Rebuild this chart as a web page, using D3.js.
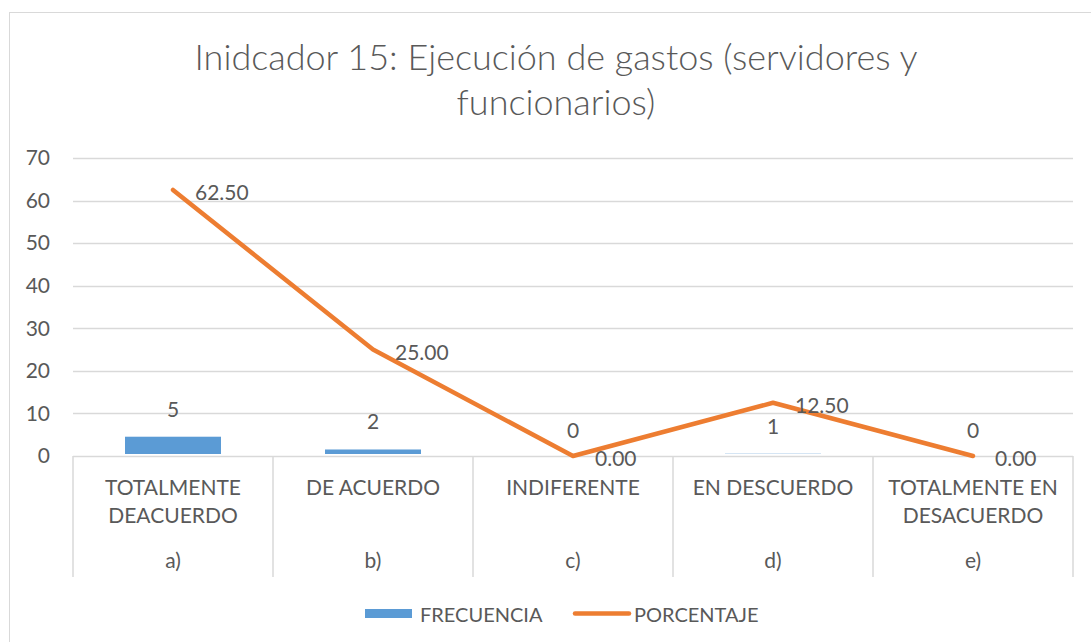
<!DOCTYPE html>
<html>
<head>
<meta charset="utf-8">
<script src="https://cdn.jsdelivr.net/npm/d3@7"></script>
<style>
  body { margin: 0; background: #fff; }
  text { font-family: Lato, "Open Sans", sans-serif; fill: #595959; }
</style>
</head>
<body>
<svg id="chart"></svg>
<script>
// data
var categories = ["TOTALMENTE DEACUERDO", "DE ACUERDO", "INDIFERENTE", "EN DESCUERDO", "TOTALMENTE EN DESACUERDO"];
var catLines = [["TOTALMENTE", "DEACUERDO"], ["DE ACUERDO"], ["INDIFERENTE"], ["EN DESCUERDO"], ["TOTALMENTE EN", "DESACUERDO"]];
var subLabels = ["a)", "b)", "c)", "d)", "e)"];
var frecuencia = [5, 2, 0, 1, 0];
var porcentaje = [62.5, 25, 0, 12.5, 0];
var yTicks = [0, 10, 20, 30, 40, 50, 60, 70];
var titleLines = ["Inidcador 15: Ejecución de gastos (servidores y", "funcionarios)"];

var W = 1091, H = 642;
var margin = {top: 158, right: 18, bottom: 186, left: 73};
var plotW = W - margin.left - margin.right,
    plotH = H - margin.top - margin.bottom;

var svg = d3.select("#chart").attr("width", W).attr("height", H);

// chart border (only top and left show in the picture)
svg.append("rect")
    .attr("x", 9.5).attr("y", 12.5)
    .attr("width", W).attr("height", H)
    .attr("fill", "none")
    .attr("stroke", "#d9d9d9")
    .attr("stroke-width", 1);

// title
svg.append("g").selectAll("text")
    .data(titleLines)
    .enter()
    .append("text")
    .attr("x", 556)
    .attr("y", (d, i) => 70 + i * 45)
    .attr("text-anchor", "middle")
    .attr("font-size", "36px")
    .attr("font-weight", 300)
    .text(d => d);

var g = svg.append("g").attr("transform", `translate(${margin.left}, ${margin.top})`);

var x = d3.scaleBand()
    .domain(categories)
    .range([0, plotW])
    .paddingInner(0.5)
    .paddingOuter(0.25);

var xEdge = d3.scaleLinear()
    .domain([0, categories.length])
    .range([0, plotW]);

var y = d3.scaleLinear()
    .domain([0, 70])
    .range([plotH, 0]);

// gridlines
g.append("g").selectAll("line")
    .data(yTicks.filter(t => t > 0))
    .enter()
    .append("line")
    .attr("x1", 0).attr("x2", plotW)
    .attr("y1", d => Math.round(y(d)) + 0.5)
    .attr("y2", d => Math.round(y(d)) + 0.5)
    .attr("stroke", "#d9d9d9")
    .attr("stroke-width", 1.3);

// y axis labels
var yAxis = d3.axisLeft(y).tickValues(yTicks).tickSize(0).tickPadding(23);
var yAxisGroup = g.append("g").call(yAxis);
yAxisGroup.select(".domain").remove();
yAxisGroup.selectAll("text")
    .attr("font-size", "21px")
    .attr("font-family", "Lato, 'Open Sans', sans-serif")
    .attr("fill", "#595959");

// bars
g.append("g").selectAll("rect")
    .data(frecuencia)
    .enter()
    .append("rect")
    .attr("x", (d, i) => x(categories[i]))
    .attr("y", d => y(d))
    .attr("width", x.bandwidth())
    .attr("height", d => plotH - y(d))
    .attr("fill", "#5b9bd5")
    .attr("stroke", "#fff")
    .attr("stroke-width", 4);

// bar labels
g.append("g").selectAll("text")
    .data(frecuencia)
    .enter()
    .append("text")
    .attr("x", (d, i) => x(categories[i]) + x.bandwidth() / 2)
    .attr("y", d => y(d) - 18)
    .attr("text-anchor", "middle")
    .attr("font-size", "21px")
    .text(d => d);

// category axis: baseline and separators
g.append("line")
    .attr("x1", 0).attr("x2", plotW)
    .attr("y1", plotH + 0.5).attr("y2", plotH + 0.5)
    .attr("stroke", "#d9d9d9")
    .attr("stroke-width", 1.5);

g.append("g").selectAll("line")
    .data(d3.range(categories.length + 1))
    .enter()
    .append("line")
    .attr("x1", d => xEdge(d)).attr("x2", d => xEdge(d))
    .attr("y1", plotH).attr("y2", plotH + 121)
    .attr("stroke", "#d9d9d9")
    .attr("stroke-width", 1.5);

// category labels
var catGroup = g.append("g");
catLines.forEach(function(lines, i){
    var cx = x(categories[i]) + x.bandwidth() / 2;
    lines.forEach(function(line, j){
        catGroup.append("text")
            .attr("x", cx)
            .attr("y", plotH + 39 + j * 28)
            .attr("text-anchor", "middle")
            .attr("font-size", "21px")
            .text(line);
    });
    catGroup.append("text")
        .attr("x", cx)
        .attr("y", plotH + 112)
        .attr("text-anchor", "middle")
        .attr("font-size", "21px")
        .text(subLabels[i]);
});

// percentage line
var line = d3.line()
    .x((d, i) => x(categories[i]) + x.bandwidth() / 2)
    .y(d => y(d));

g.append("path")
    .datum(porcentaje)
    .attr("d", line)
    .attr("fill", "none")
    .attr("stroke", "#ed7d31")
    .attr("stroke-width", 4.5)
    .attr("stroke-linecap", "round")
    .attr("stroke-linejoin", "round");

// line labels
g.append("g").selectAll("text")
    .data(porcentaje)
    .enter()
    .append("text")
    .attr("x", (d, i) => x(categories[i]) + x.bandwidth() / 2 + 22)
    .attr("y", d => y(d) + 10)
    .attr("font-size", "21px")
    .text(d => d.toFixed(2));

// legend
var legend = svg.append("g").attr("transform", "translate(365, 613.5)");
legend.append("rect")
    .attr("x", 0).attr("y", -4.5)
    .attr("width", 47).attr("height", 9)
    .attr("fill", "#5b9bd5");
legend.append("text")
    .attr("x", 55).attr("y", 8)
    .attr("font-size", "20px")
    .text("FRECUENCIA");
legend.append("line")
    .attr("x1", 210).attr("x2", 264)
    .attr("y1", 0).attr("y2", 0)
    .attr("stroke", "#ed7d31")
    .attr("stroke-width", 4.5)
    .attr("stroke-linecap", "round");
legend.append("text")
    .attr("x", 269).attr("y", 8)
    .attr("font-size", "20px")
    .text("PORCENTAJE");
</script>
</body>
</html>
